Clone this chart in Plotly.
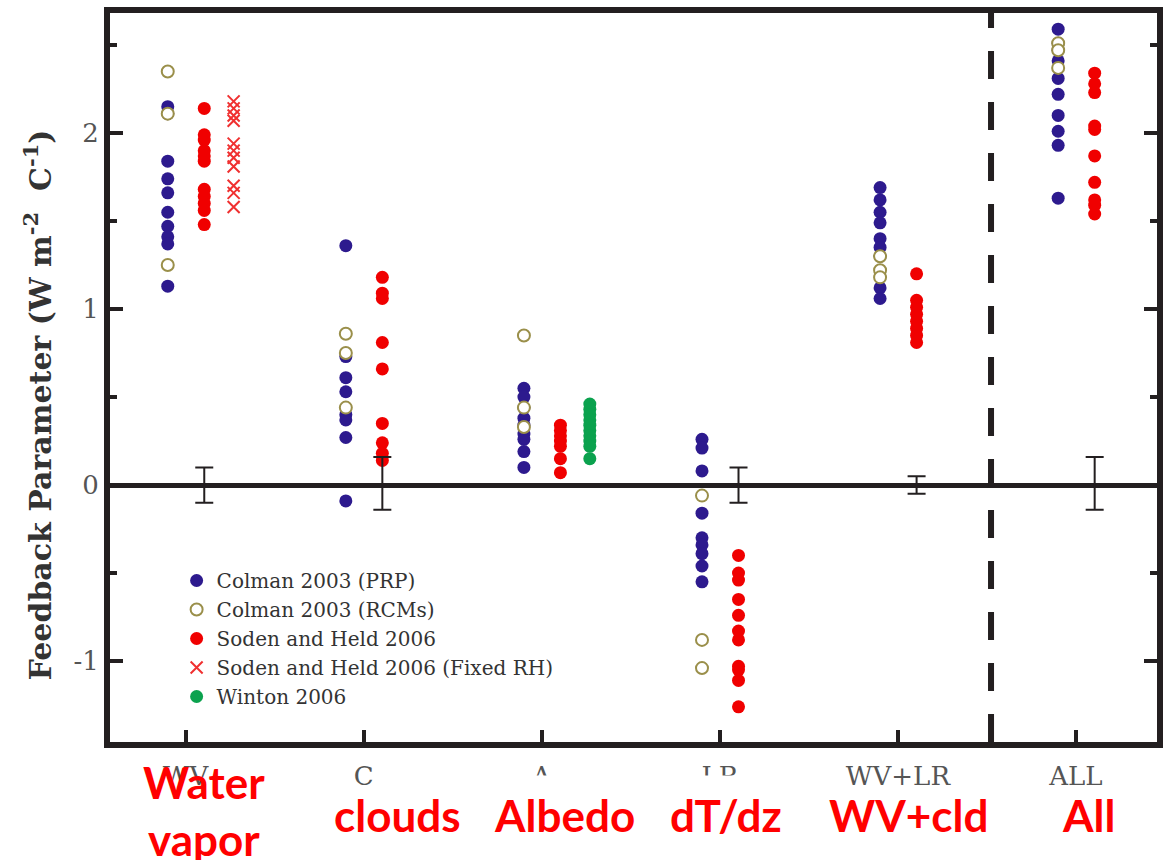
import plotly.graph_objects as go

# ---------------- data ----------------
categories = ["WV", "C", "A", "LR", "WV+LR", "ALL"]

# values per category (same order as categories); empty list = no data
colman_prp = [
    [2.15, 2.11, 1.84, 1.74, 1.66, 1.55, 1.47, 1.41, 1.37, 1.13],
    [1.36, 0.73, 0.61, 0.53, 0.40, 0.37, 0.27, -0.09],
    [0.55, 0.50, 0.44, 0.38, 0.34, 0.29, 0.26, 0.19, 0.10],
    [0.26, 0.21, 0.08, -0.16, -0.30, -0.34, -0.39, -0.46, -0.55],
    [1.69, 1.62, 1.55, 1.49, 1.40, 1.35, 1.30, 1.12, 1.06],
    [2.59, 2.51, 2.47, 2.41, 2.31, 2.22, 2.10, 2.01, 1.93, 1.63],
]
colman_rcm = [
    [2.35, 2.11, 1.25],
    [0.86, 0.75, 0.44],
    [0.85, 0.44, 0.33],
    [-0.06, -0.88, -1.04],
    [1.30, 1.22, 1.18],
    [2.51, 2.47, 2.37],
]
soden_held = [
    [2.14, 1.99, 1.96, 1.90, 1.87, 1.84, 1.68, 1.64, 1.60, 1.56, 1.48],
    [1.18, 1.09, 1.06, 0.81, 0.66, 0.35, 0.24, 0.18, 0.14],
    [0.34, 0.31, 0.28, 0.25, 0.22, 0.15, 0.07],
    [-0.40, -0.50, -0.54, -0.65, -0.74, -0.83, -0.88, -1.03, -1.05, -1.11, -1.26],
    [1.20, 1.05, 1.01, 0.97, 0.93, 0.89, 0.85, 0.81],
    [2.34, 2.28, 2.23, 2.04, 2.02, 1.87, 1.72, 1.62, 1.59, 1.54],
]
soden_fixed_rh = [
    [2.18, 2.14, 2.10, 2.07, 1.94, 1.90, 1.86, 1.81, 1.70, 1.66, 1.58],
    [], [], [], [], [],
]
winton = [
    [], [],
    [0.46, 0.43, 0.40, 0.37, 0.34, 0.31, 0.28, 0.25, 0.22, 0.15],
    [], [], [],
]

# model-spread error bars (centred on zero) per category, None = none
err_plus = [0.10, 0.16, None, 0.10, 0.05, 0.16]
err_minus = [0.10, 0.14, None, 0.10, 0.05, 0.14]

red_labels = ["Water<br>vapor", "clouds", "Albedo", "dT/dz", "WV+cld", "All"]
y_ticks = [-1, 0, 1, 2]
y_ticktext = ["-1", "0", "1", "2"]

# ---------------- styling ----------------
INK = "#231f20"
BLUE = "#2d1a8e"
OLIVE = "#9a8f4a"
RED = "#f00000"
GREEN = "#0ba24e"
SERIF = "DejaVu Serif, Liberation Serif, serif"

W, H = 1163, 860
ML, MR, MT, MB = 110, 0, 13, 118
PW, PH = W - ML - MR, H - MT - MB

OFF_LEFT, OFF_MID, OFF_RIGHT = -0.10, 0.105, 0.27


def px_to_paper_x(px):
    return (px - ML) / PW


def px_to_paper_y(py):
    return (H - MB - py) / PH


def flatten(series, offset):
    xs, ys = [], []
    for i, vals in enumerate(series):
        for v in vals:
            xs.append(i + offset)
            ys.append(v)
    return xs, ys


fig = go.Figure()

x, y = flatten(colman_prp, OFF_LEFT)
fig.add_trace(go.Scatter(x=x, y=y, mode="markers", name="Colman 2003 (PRP)",
                         marker=dict(symbol="circle", size=13, color=BLUE, line=dict(width=0))))
x, y = flatten(colman_rcm, OFF_LEFT)
fig.add_trace(go.Scatter(x=x, y=y, mode="markers", name="Colman 2003 (RCMs)",
                         marker=dict(symbol="circle", size=12, color="white",
                                     line=dict(width=2, color=OLIVE))))
x, y = flatten(soden_held, OFF_MID)
fig.add_trace(go.Scatter(x=x, y=y, mode="markers", name="Soden and Held 2006",
                         marker=dict(symbol="circle", size=13, color=RED, line=dict(width=0))))
x, y = flatten(soden_fixed_rh, OFF_RIGHT)
fig.add_trace(go.Scatter(x=x, y=y, mode="markers", name="Soden and Held 2006 (Fixed RH)",
                         marker=dict(symbol="x-thin", size=12, color=RED,
                                     line=dict(width=2, color="#f03030"))))
x, y = flatten(winton, OFF_RIGHT)
fig.add_trace(go.Scatter(x=x, y=y, mode="markers", name="Winton 2006",
                         marker=dict(symbol="circle", size=13, color=GREEN, line=dict(width=0))))

# error bars at zero
ex, ey, ep, em = [], [], [], []
for i, (p, m) in enumerate(zip(err_plus, err_minus)):
    if p is None:
        continue
    ex.append(i + OFF_MID)
    ey.append(0)
    ep.append(p)
    em.append(m)
fig.add_trace(go.Scatter(x=ex, y=ey, mode="markers", showlegend=False, hoverinfo="skip",
                         marker=dict(size=1, opacity=0),
                         error_y=dict(type="data", symmetric=False, array=ep, arrayminus=em,
                                      color=INK, thickness=2, width=9)))

# dashed separator between WV+LR and ALL
fig.add_shape(type="line", xref="x", yref="paper", x0=4.523, x1=4.523, y0=0, y1=1,
              line=dict(color=INK, width=6, dash="28px,23px"), layer="above")

# big red category labels
label_px = [205, 399, 567, 730, 913, 1094]
for txt, px in zip(red_labels, label_px):
    boxed = txt in ("Albedo", "dT/dz")
    fig.add_annotation(text=txt, xref="paper", yref="paper",
                       x=px_to_paper_x(px), y=px_to_paper_y(811 if "<br>" in txt else 815),
                       xanchor="center", yanchor="middle", showarrow=False,
                       font=dict(family="Lato, Liberation Sans, sans-serif", size=44,
                                 color="#ff0000", weight="bold"),
                       bgcolor="white" if boxed else "rgba(0,0,0,0)",
                       borderpad=13 if boxed else 1)

# y axis title
fig.add_annotation(text="Feedback Parameter (W m<sup>-2</sup>\u00a0\u00a0C<sup>-1</sup>)",
                   xref="paper", yref="paper", x=px_to_paper_x(38), y=px_to_paper_y(405),
                   xanchor="center", yanchor="middle", textangle=-90, showarrow=False,
                   font=dict(family=SERIF, size=30, color="#333333", weight="bold"))

fig.update_layout(
    width=W, height=H,
    margin=dict(l=ML, r=MR, t=MT, b=MB, pad=0),
    paper_bgcolor="white", plot_bgcolor="white",
    showlegend=True,
    legend=dict(x=px_to_paper_x(177), y=px_to_paper_y(561), xanchor="left", yanchor="top",
                bgcolor="rgba(0,0,0,0)", font=dict(family=SERIF, size=20, color="#333333"),
                itemclick=False),
    xaxis=dict(range=[-0.4243, 5.455], tickmode="array", tickvals=list(range(len(categories))),
               ticktext=categories, showgrid=False, zeroline=False,
               showline=True, linewidth=6, linecolor=INK, mirror=True,
               ticks="inside", ticklen=12, tickwidth=4, tickcolor=INK,
               ticklabelstandoff=6,
               tickfont=dict(family=SERIF, size=26, color="#555555")),
    yaxis=dict(range=[-1.460, 2.682], tickmode="array", tickvals=y_ticks, ticktext=y_ticktext,
               showgrid=False, zeroline=True, zerolinewidth=5, zerolinecolor=INK,
               showline=True, linewidth=6, linecolor=INK, mirror="allticks",
               ticks="inside", ticklen=13, tickwidth=4, tickcolor=INK,
               minor=dict(tickvals=[-0.5, 0.5, 1.5, 2.5], ticks="inside", ticklen=7,
                          tickwidth=4, tickcolor=INK),
               tickfont=dict(family=SERIF, size=26, color="#555555")),
)

fig.write_html("out.html", config={"displayModeBar": False},
               post_script="document.body.style.margin='0';document.body.style.overflow='hidden';")
